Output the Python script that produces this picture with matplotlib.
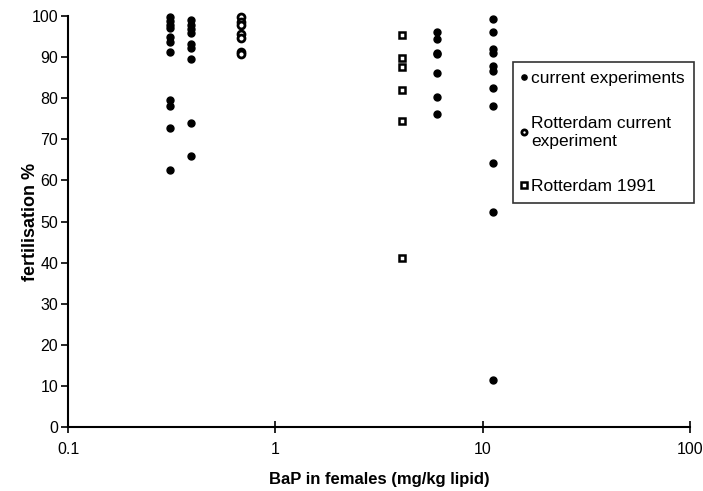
import matplotlib
matplotlib.use("Agg")
import matplotlib.pyplot as plt

plt.rcParams["font.family"] = ["Liberation Sans", "DejaVu Sans"]

# current experiments (filled circles)
cur_bap = [0.31] * 11 + [0.39] * 9 + [6.0] * 7 + [11.2] * 11
cur_fert = [99.8, 98.9, 97.8, 97.0, 94.8, 93.7, 91.2, 79.5, 78.1, 72.7, 62.5,
            99.0, 97.8, 96.8, 95.8, 93.2, 92.2, 89.5, 73.9, 66.0,
            96.0, 94.3, 91.1, 90.8, 86.1, 80.4, 76.2,
            99.3, 96.0, 91.9, 91.1, 87.9, 86.5, 82.4, 78.1, 64.3, 52.2, 11.4]

# Rotterdam current experiment (open circles)
rot_bap = [0.68] * 7
rot_fert = [99.7, 98.6, 97.8, 95.5, 94.6, 91.3, 90.7]

# Rotterdam 1991 (open squares)
r91_bap = [4.1] * 6
r91_fert = [95.4, 89.7, 87.7, 82.1, 74.5, 41.2]

fig = plt.figure(figsize=(7.03, 4.91), dpi=100)
ax = fig.add_axes([68 / 703, 1 - 427 / 491, 622 / 703, 411 / 491])

ax.plot(cur_bap, cur_fert, "o", color="black", markersize=5, clip_on=False,
        label="current experiments")
ax.plot(rot_bap, rot_fert, "o", markerfacecolor="white", markeredgecolor="black",
        markeredgewidth=2, markersize=5, clip_on=False,
        label="Rotterdam current\nexperiment")
ax.plot(r91_bap, r91_fert, "s", markerfacecolor="white", markeredgecolor="black",
        markeredgewidth=1.8, markersize=5, clip_on=False, label="Rotterdam 1991")

ax.set_xscale("log")
ax.set_xlim(0.1, 100)
ax.set_ylim(0, 100)
ax.set_xticks([0.1, 1, 10, 100])
ax.set_xticklabels(["0.1", "1", "10", "100"])
ax.set_yticks(range(0, 101, 10))
ax.minorticks_off()
ax.tick_params(axis="x", direction="inout", length=9, width=1.2, labelsize=11.5, pad=6)
ax.tick_params(axis="y", direction="out", length=5, width=1.2, labelsize=11.5, pad=2)

for s in ["top", "right"]:
    ax.spines[s].set_visible(False)
for s in ["left", "bottom"]:
    ax.spines[s].set_linewidth(1.5)

ax.set_xlabel("BaP in females (mg/kg lipid)", fontsize=12, fontweight="bold", labelpad=11)
ax.set_ylabel("fertilisation %", fontsize=13, fontweight="bold")
ax.yaxis.set_label_coords(-0.047, 0.5)

leg = ax.legend(loc="upper left", bbox_to_anchor=(513 / 703, 1 - 62 / 491),
                bbox_transform=fig.transFigure, fontsize=12.5, frameon=True,
                fancybox=False, edgecolor="black", markerscale=0.75,
                handlelength=0.3, handletextpad=0.25, labelspacing=1.75,
                borderpad=0.5, borderaxespad=0)
leg.get_frame().set_linewidth(1.2)

fig.savefig("out.png", dpi=100)
